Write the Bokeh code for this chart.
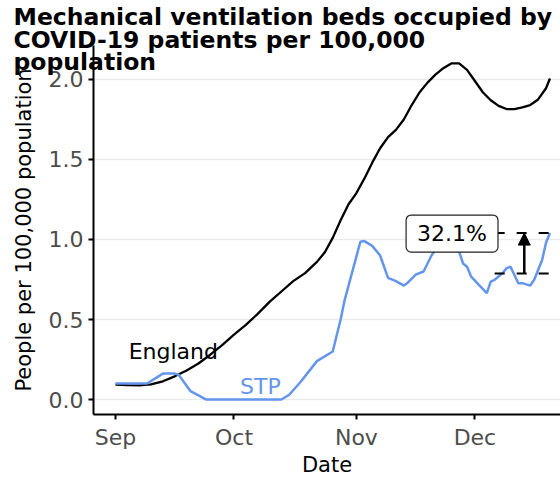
import pandas as pd
from bokeh.plotting import figure
from bokeh.models import (Range1d, FixedTicker, DatetimeTickFormatter, NumeralTickFormatter,
                          Label, Arrow, NormalHead, ColumnDataSource, Title)
from bokeh.embed import file_html
from bokeh.resources import INLINE

# ---------------- data ----------------
england_dates = ["2020-09-01", "2020-09-04", "2020-09-07", "2020-09-10", "2020-09-13",
                 "2020-09-16", "2020-09-19", "2020-09-22", "2020-09-25", "2020-09-28",
                 "2020-10-01", "2020-10-04", "2020-10-07", "2020-10-10", "2020-10-13",
                 "2020-10-16", "2020-10-19", "2020-10-22", "2020-10-24", "2020-10-26",
                 "2020-10-28", "2020-10-30", "2020-11-01", "2020-11-03", "2020-11-05",
                 "2020-11-07", "2020-11-09", "2020-11-11", "2020-11-13", "2020-11-15",
                 "2020-11-17", "2020-11-19", "2020-11-21", "2020-11-23", "2020-11-25",
                 "2020-11-27", "2020-11-29", "2020-12-01", "2020-12-03", "2020-12-05",
                 "2020-12-07", "2020-12-09", "2020-12-11", "2020-12-13", "2020-12-15",
                 "2020-12-17", "2020-12-19", "2020-12-20"]
england_values = [0.093, 0.090, 0.088, 0.095, 0.114,
                  0.145, 0.182, 0.225, 0.280, 0.340,
                  0.405, 0.467, 0.535, 0.610, 0.675,
                  0.740, 0.790, 0.860, 0.920, 1.010,
                  1.120, 1.220, 1.290, 1.380, 1.480,
                  1.570, 1.640, 1.685, 1.750, 1.840,
                  1.920, 1.980, 2.030, 2.070, 2.100,
                  2.100, 2.060, 1.990, 1.920, 1.870,
                  1.835, 1.815, 1.815, 1.825, 1.840,
                  1.875, 1.945, 2.006]

stp_dates = ["2020-09-01", "2020-09-09", "2020-09-13", "2020-09-16", "2020-09-17",
             "2020-09-20", "2020-09-24", "2020-10-13", "2020-10-15", "2020-10-18",
             "2020-10-22", "2020-10-26", "2020-10-28", "2020-10-29", "2020-11-02",
             "2020-11-03", "2020-11-05", "2020-11-07", "2020-11-09", "2020-11-11",
             "2020-11-13", "2020-11-14", "2020-11-16", "2020-11-18", "2020-11-20",
             "2020-11-22", "2020-11-24", "2020-11-26", "2020-11-27", "2020-11-28",
             "2020-11-29", "2020-11-30", "2020-12-02", "2020-12-04", "2020-12-05",
             "2020-12-06", "2020-12-08", "2020-12-09", "2020-12-10", "2020-12-12",
             "2020-12-13", "2020-12-15", "2020-12-16", "2020-12-18", "2020-12-19",
             "2020-12-20"]
stp_values = [0.100, 0.100, 0.162, 0.162, 0.155,
              0.052, 0.000, 0.000, 0.030, 0.114,
              0.240, 0.300, 0.500, 0.620, 0.986,
              0.990, 0.960, 0.900, 0.760, 0.740,
              0.712, 0.730, 0.780, 0.800, 0.900,
              0.970, 1.000, 0.980, 0.924, 0.850,
              0.830, 0.770, 0.717, 0.665, 0.737,
              0.748, 0.790, 0.820, 0.830, 0.727,
              0.727, 0.712, 0.748, 0.870, 0.980,
              1.040]

month_ticks = ["2020-09-01", "2020-10-01", "2020-11-01", "2020-12-01"]
y_ticks = [0.0, 0.5, 1.0, 1.5, 2.0]

change_top = 1.04
change_bottom = 0.787
change_text = "32.1%"
change_label_date = "2020-11-25 05:00"
change_dash_start = "2020-12-06"
change_arrow_date = "2020-12-13 12:00"

title_lines = ["Mechanical ventilation beds occupied by",
               "COVID-19 patients per 100,000",
               "population"]

FONT = "DejaVu Sans"
STP_COLOR = "#6495ED"

# ---------------- figure ----------------
eng = ColumnDataSource(dict(date=pd.to_datetime(england_dates), value=england_values))
stp = ColumnDataSource(dict(date=pd.to_datetime(stp_dates), value=stp_values))

p = figure(width=560, height=479, output_backend="svg", toolbar_location=None,
           x_axis_type="datetime",
           x_range=Range1d(pd.Timestamp("2020-08-26 10:20"), pd.Timestamp("2020-12-22 16:00")),
           y_range=Range1d(-0.0935, 2.212),
           min_border_left=93, min_border_right=0, min_border_top=45, min_border_bottom=64)
p.outline_line_color = None
p.background_fill_color = "white"
p.border_fill_color = "white"

p.xgrid.grid_line_color = None
p.ygrid.grid_line_color = "#EBEBEB"
p.ygrid.grid_line_width = 1.6

p.xaxis.ticker = FixedTicker(ticks=[pd.Timestamp(t).value / 1e6 for t in month_ticks])
p.xaxis.formatter = DatetimeTickFormatter(days="%b", months="%b", years="%b")
p.yaxis.ticker = FixedTicker(ticks=y_ticks)
p.yaxis.formatter = NumeralTickFormatter(format="0.0")
p.xaxis.axis_label = "Date"
p.yaxis.axis_label = "People per 100,000 population"

for ax in (p.xaxis[0], p.yaxis[0]):
    ax.axis_line_color = "black"
    ax.axis_line_width = 2
    ax.major_tick_line_color = "black"
    ax.major_tick_line_width = 2
    ax.major_tick_out = 5
    ax.major_tick_in = 0
    ax.minor_tick_line_color = None
    ax.major_label_text_font = FONT
    ax.major_label_text_font_size = "22px"
    ax.major_label_text_color = "#4D4D4D"
    ax.axis_label_text_font = FONT
    ax.axis_label_text_font_size = "21px"
    ax.axis_label_text_font_style = "normal"
    ax.axis_label_text_color = "black"
p.yaxis.major_label_standoff = 5
p.yaxis.axis_label_standoff = 10
p.xaxis.major_label_standoff = 5
p.xaxis.axis_label_standoff = 0

# lines
p.line("date", "value", source=eng, color="black", line_width=2.3)
p.line("date", "value", source=stp, color=STP_COLOR, line_width=2.5)

# line labels
p.add_layout(Label(x=pd.Timestamp("2020-09-04 08:00"), y=0.30, text="England",
                   text_font=FONT, text_font_size="22px", text_color="black",
                   text_baseline="alphabetic", text_align="left"))
p.add_layout(Label(x=pd.Timestamp("2020-10-07 16:00"), y=0.079, text="STP",
                   text_font=FONT, text_font_size="22px", text_color=STP_COLOR,
                   text_baseline="alphabetic", text_align="center"))

# change annotation
end_date = pd.Timestamp(stp_dates[-1])
for yv in (change_top, change_bottom):
    p.segment(x0=[pd.Timestamp(change_dash_start)], y0=[yv], x1=[end_date], y1=[yv],
              line_color="black", line_width=2, line_dash="10 12")
p.add_layout(Arrow(x_start=pd.Timestamp(change_arrow_date), y_start=change_bottom,
                   x_end=pd.Timestamp(change_arrow_date), y_end=change_top,
                   line_color="black", line_width=2.5,
                   end=NormalHead(size=12, fill_color="black", line_color="black", line_width=1)))
p.add_layout(Label(x=pd.Timestamp(change_label_date), y=1.037, text=change_text,
                   text_font=FONT, text_font_size="22px", text_color="black",
                   text_align="center", text_baseline="middle",
                   background_fill_color="white", border_line_color="#222222",
                   border_line_width=1.2, padding=(11, 6), border_radius=5))

# title (overlaps the panel as in the reference)
p.add_layout(Title(text="\n".join(title_lines), align="left", offset=-80, standoff=-62,
                   vertical_align="bottom", text_font=FONT, text_font_size="23.5px",
                   text_font_style="bold", text_color="black", text_line_height=0.817),
             "above")

open("out.html", "w").write(file_html(p, INLINE))
